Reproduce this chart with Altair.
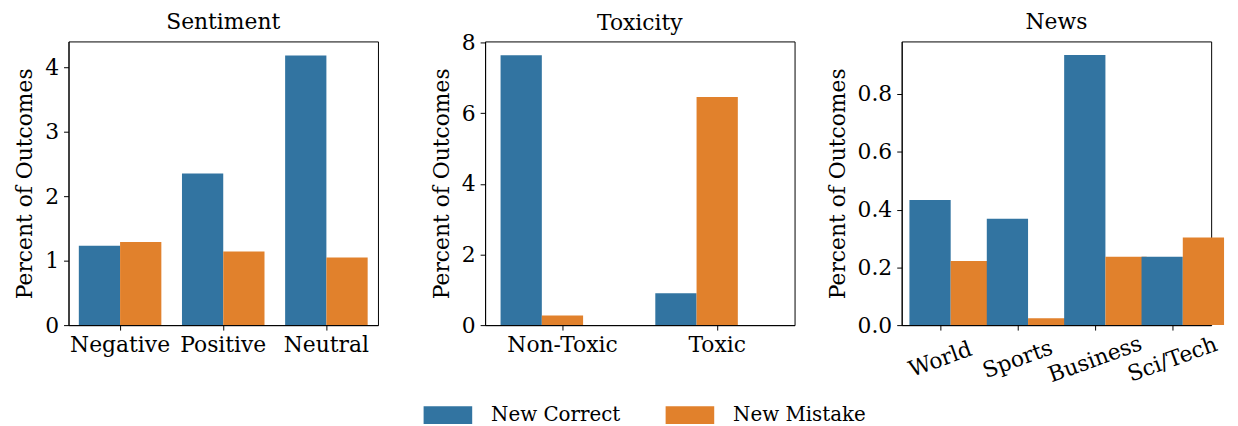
import altair as alt
import pandas as pd

series = ["New Correct", "New Mistake"]
colors = ["#3274a1", "#e1812c"]

sent_cats = ["Negative", "Positive", "Neutral"]
sent_correct = [1.23, 2.35, 4.18]
sent_mistake = [1.29, 1.14, 1.05]

tox_cats = ["Non-Toxic", "Toxic"]
tox_correct = [7.64, 0.90]
tox_mistake = [0.27, 6.46]

news_cats = ["World", "Sports", "Business", "Sci/Tech"]
news_correct = [0.433, 0.368, 0.935, 0.237]
news_mistake = [0.222, 0.024, 0.237, 0.303]

FONT = "DejaVu Serif"
FS = 22


def panel(title, cats, correct, mistake, ymax, yticks, fmt, angle, tdy=0):
    rows = []
    for c, a, b in zip(cats, correct, mistake):
        rows.append({"cat": c, "series": series[0], "value": a})
        rows.append({"cat": c, "series": series[1], "value": b})
    df = pd.DataFrame(rows)
    if angle:
        xaxis = alt.Axis(labelAngle=angle, labelAlign="center", labelBaseline="middle",
                         labelPadding=29)
    else:
        xaxis = alt.Axis(labelAngle=0, labelAlign="center", labelBaseline="top")
    return alt.Chart(df, title=alt.Title(title, dy=tdy)).mark_bar().encode(
        x=alt.X("cat:N", sort=cats, title=None,
                scale=alt.Scale(paddingInner=0.2, paddingOuter=0.1),
                axis=xaxis),
        xOffset=alt.XOffset("series:N", sort=series,
                            scale=alt.Scale(paddingInner=0, paddingOuter=0)),
        y=alt.Y("value:Q", title="Percent of Outcomes",
                scale=alt.Scale(domain=[0, ymax], nice=False, zero=True),
                axis=alt.Axis(values=yticks, format=fmt)),
        color=alt.Color("series:N", sort=series, title=None,
                        scale=alt.Scale(domain=series, range=colors),
                        legend=alt.Legend(orient="none", direction="horizontal",
                                          legendX=358, legendY=352,
                                          symbolType="M-1,-0.367L1,-0.367L1,0.367L-1,0.367Z",
                                          symbolSize=2401, symbolStrokeWidth=0,
                                          symbolOpacity=1,
                                          labelFontSize=20, labelOffset=19,
                                          columnPadding=45, labelFont=FONT)),
    ).properties(width=312, height=286)


p1 = panel("Sentiment", sent_cats, sent_correct, sent_mistake, 4.4, [0, 1, 2, 3, 4], "d", 0)
p2 = panel("Toxicity", tox_cats, tox_correct, tox_mistake, 8.03, [0, 2, 4, 6, 8], "d", 0, tdy=11)
p3 = panel("News", news_cats, news_correct, news_mistake, 0.982, [0, 0.2, 0.4, 0.6, 0.8], ".1f", 340)

chart = alt.HConcatChart(hconcat=[p1, p2, p3], spacing=108, bounds="flush").resolve_scale(
    color="shared"
).properties(
    padding={"left": 5, "top": 0, "right": 5, "bottom": 0}
).configure(font=FONT).configure_view(
    stroke="black", strokeWidth=1
).configure_axis(
    grid=False, domainColor="black", tickColor="black", labelColor="black",
    titleColor="black", tickSize=5, labelFontSize=FS, titleFontSize=FS,
    labelFont=FONT, titleFont=FONT, titleFontWeight="normal",
    labelPadding=5, titlePadding=8
).configure_title(
    font=FONT, fontSize=FS, fontWeight="normal", color="black", offset=8, anchor="middle"
).configure_legend(
    labelColor="black"
)

chart.save("out.html", embed_options={"renderer": "svg", "actions": False})
